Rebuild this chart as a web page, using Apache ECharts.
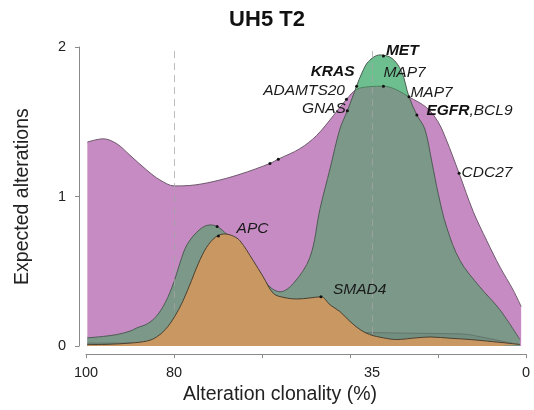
<!DOCTYPE html>
<html><head><meta charset="utf-8">
<script src="https://cdn.jsdelivr.net/npm/echarts@6/dist/echarts.min.js"></script>
<style>html,body{margin:0;padding:0;background:#fff}#c{width:534px;height:410px}</style>
</head><body><div id="c"></div>
<script>
// Alteration clonality (%) vs expected alterations
var purpleCurve = [[99.7,1.364],[96.1,1.386],[93,1.353],[90,1.276],[86.2,1.177],[83.2,1.111],[79.9,1.071],[76.4,1.074],[71.1,1.10],[65,1.149],[58.2,1.221],[56.3,1.25],[51.4,1.32],[47.6,1.408],[43.8,1.54],[40.8,1.65],[38.5,1.716],[35.5,1.735],[32.4,1.738],[29.5,1.715],[26.7,1.668],[22.6,1.595],[20,1.50],[18.2,1.386],[15.2,1.155],[12,0.90],[8.9,0.704],[5.9,0.528],[2.9,0.374],[1.1,0.264]];
var greenCurve = [[99.7,0.055],[96,0.065],[93,0.077],[90,0.10],[88.5,0.121],[86,0.15],[84,0.20],[82,0.29],[80,0.43],[78.6,0.56],[77,0.68],[74.1,0.781],[71.8,0.81],[70.2,0.80],[68,0.748],[66.5,0.704],[63.5,0.594],[60.5,0.484],[58.2,0.396],[55.9,0.363],[52.9,0.418],[49.1,0.594],[46.8,0.92],[44.5,1.19],[42.3,1.452],[40.6,1.573],[38.5,1.738],[37.3,1.826],[35.8,1.903],[33.2,1.947],[30.5,1.925],[28.3,1.837],[26.6,1.668],[24.8,1.545],[23,1.452],[21.4,1.232],[19.9,1.012],[18,0.792],[15,0.572],[10.5,0.396],[5.9,0.242],[1.4,0.044]];
var floorCurve = [[99.7,0.02],[90,0.02],[80,0.03],[70,0.05],[60,0.07],[50,0.08],[40,0.09],[35,0.09],[30,0.088],[25,0.086],[20,0.084],[14,0.08],[10,0.06],[5,0.03],[1.4,0.008]];
var orangeCurve = [[99.7,0.01],[95,0.012],[90,0.02],[86,0.035],[84,0.06],[82,0.11],[80,0.19],[78,0.30],[76,0.44],[74.5,0.55],[72.6,0.66],[70.5,0.73],[68.5,0.75],[66.5,0.735],[65,0.704],[62,0.572],[59.7,0.462],[57.4,0.352],[55,0.325],[52,0.315],[49.1,0.322],[46.6,0.33],[44.5,0.275],[42.3,0.231],[40,0.165],[37.7,0.11],[35.5,0.077],[32.4,0.055],[29.4,0.044],[25,0.055],[21.8,0.061],[17,0.052],[12.7,0.044],[5.9,0.025],[1.4,0.011]];
var geneDots = [
  {name:'KRAS', x:38.5, y:1.738},
  {name:'ADAMTS20', x:40.8, y:1.65},
  {name:'GNAS', x:40.6, y:1.573},
  {name:'MET', x:32.4, y:1.94},
  {name:'MAP7', x:32.4, y:1.738},
  {name:'MAP7', x:26.6, y:1.668},
  {name:'EGFR,BCL9', x:24.8, y:1.545},
  {name:'CDC27', x:15.2, y:1.155},
  {name:'', x:58.2, y:1.221},
  {name:'', x:56.3, y:1.25},
  {name:'APC', x:70.2, y:0.80},
  {name:'', x:69.9, y:0.737},
  {name:'SMAD4', x:46.6, y:0.33}
];
var xTickValues = [0,20,40,60,80,100];
var xLabelValues = [0,35,80,100];
var guideLines = [80,35];

var FONT = 'Liberation Sans, Arial, sans-serif';
var labelSpec = {
  'KRAS': {position:'left', distance:0.5, offset:[0,-14], formatter:'{b|KRAS}'},
  'ADAMTS20': {position:'left', distance:0, offset:[0,-9]},
  'GNAS': {position:'left', distance:0, offset:[0,-2]},
  'MET': {position:'right', distance:1, offset:[0,-5], formatter:'{b|MET}'},
  'MAP7a': {position:'right', distance:-1.5, offset:[0,-13]},
  'MAP7b': {position:'right', distance:0, offset:[0,-4]},
  'EGFR,BCL9': {position:'right', distance:8, offset:[0,-4], formatter:'{b|EGFR},BCL9'},
  'CDC27': {position:'right', distance:1, offset:[0,-1]},
  'APC': {position:'right', distance:18, offset:[0,2]},
  'SMAD4': {position:'right', distance:10.5, offset:[0,-7]}
};
var map7count = 0;
var dotData = geneDots.map(function(d){
  var key = d.name;
  if (key === 'MAP7') { key = map7count === 0 ? 'MAP7a' : 'MAP7b'; map7count++; }
  var item = {name:d.name, value:[d.x, d.y]};
  if (d.name && labelSpec[key]) {
    var s = labelSpec[key];
    item.label = {show:true, position:s.position, distance:s.distance, offset:s.offset,
      formatter: s.formatter || d.name};
  }
  return item;
});

var chart = echarts.init(document.getElementById('c'), null, {renderer:'canvas'});
chart.setOption({
  animation:false,
  backgroundColor:'#ffffff',
  title:{text:'UH5 T2', left:'center', top:9, padding:0,
    textStyle:{fontSize:22, fontWeight:'bold', color:'#111', fontFamily:FONT}},
  grid:{left:86, right:8, top:47, bottom:60},
  xAxis:{type:'value', min:0, max:100, interval:20, inverse:true, offset:8,
    splitLine:{show:false},
    axisLine:{show:true, onZero:false, lineStyle:{color:'#8a8a8a', width:1}},
    axisTick:{show:true, length:4, customValues:xTickValues, lineStyle:{color:'#8a8a8a'}},
    axisLabel:{customValues:xLabelValues, fontSize:14.5, color:'#222', margin:11, fontFamily:FONT},
    name:'Alteration clonality (%)', nameLocation:'middle', nameGap:30,
    nameTextStyle:{fontSize:19.5, color:'#222', fontFamily:FONT, padding:[0,52,0,0]}},
  yAxis:{type:'value', min:0, max:2, interval:1, offset:7,
    splitLine:{show:false},
    axisLine:{show:true, onZero:false, lineStyle:{color:'#8a8a8a', width:1}},
    axisTick:{show:true, length:4, lineStyle:{color:'#8a8a8a'}},
    axisLabel:{fontSize:14.5, color:'#222', margin:13, fontFamily:FONT},
    name:'Expected alterations', nameLocation:'middle', nameGap:46,
    nameTextStyle:{fontSize:19.5, color:'#222', fontFamily:FONT}},
  series:[
    {type:'line', data:greenCurve, smooth:0.35, showSymbol:false, z:1,
      lineStyle:{width:0, opacity:0}, areaStyle:{color:'#aad9cf', opacity:1}},
    {type:'line', data:purpleCurve, smooth:0.35, showSymbol:false, z:2,
      lineStyle:{width:1, color:'#6e5a6c'}, areaStyle:{color:'#c68bc3', opacity:1}},
    {type:'line', data:greenCurve, smooth:0.35, showSymbol:false, z:3,
      lineStyle:{width:1, color:'#4c5c52'}, areaStyle:{color:'#30a54f', opacity:0.5}},
    {type:'line', data:floorCurve, smooth:0.35, showSymbol:false, z:4,
      lineStyle:{width:0.8, color:'#5f6f66'}, areaStyle:{color:'#3c5046', opacity:0.12}},
    {type:'line', data:orangeCurve, smooth:0.35, showSymbol:false, z:5,
      lineStyle:{width:1, color:'#4a4030'}, areaStyle:{color:'#c99862', opacity:1}},
    {type:'scatter', data:dotData, symbol:'circle', symbolSize:3, z:7,
      itemStyle:{color:'#111', opacity:1},
      label:{show:false, fontSize:15.5, fontStyle:'italic', color:'#1a1a1a', fontFamily:FONT,
        rich:{b:{fontSize:15.5, fontStyle:'italic', fontWeight:'bold', color:'#111', fontFamily:FONT}}},
      markLine:{silent:true, symbol:['none','none'], label:{show:false},
        lineStyle:{color:'rgba(165,165,165,0.75)', type:[7,5], width:1},
        data: guideLines.map(function(v){return {xAxis:v};})}}
  ]
});
</script></body></html>
